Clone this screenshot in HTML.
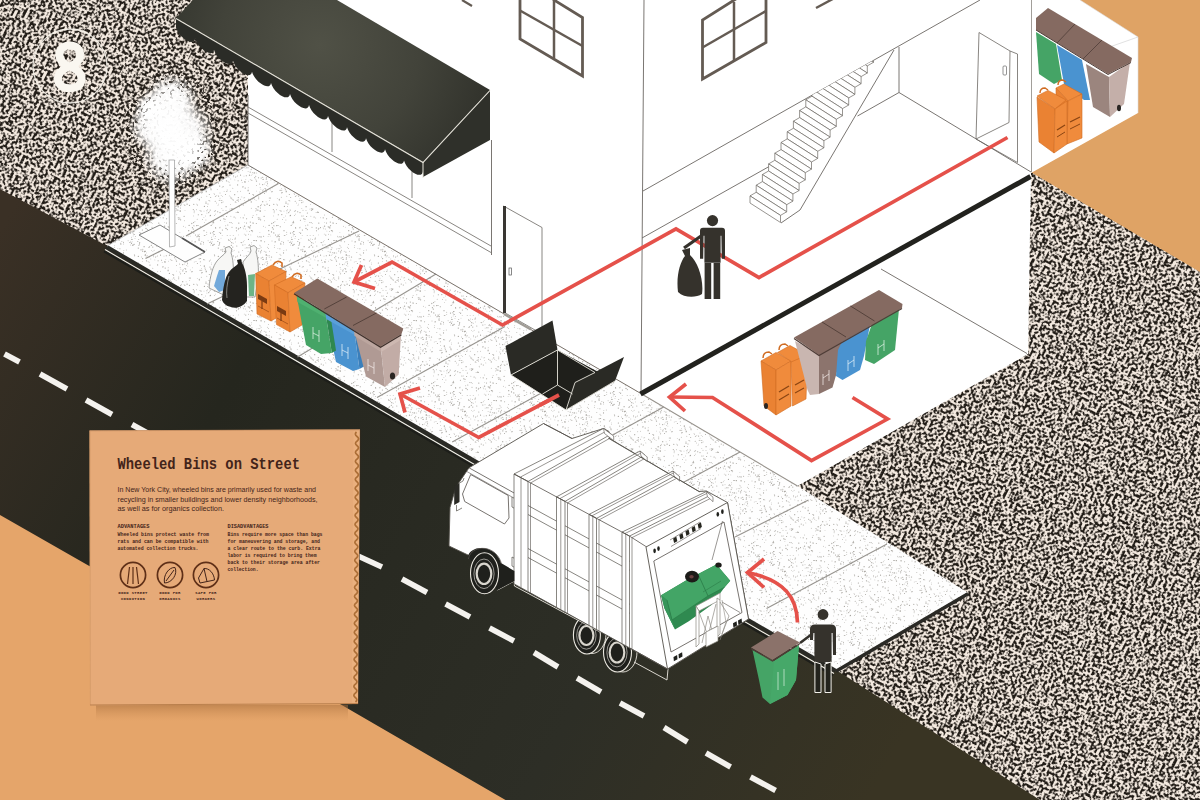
<!DOCTYPE html>
<html><head><meta charset="utf-8"><title>Wheeled Bins on Street</title>
<style>
html,body{margin:0;padding:0;background:#e5a56a;}
body{width:1200px;height:800px;overflow:hidden;font-family:"Liberation Sans",sans-serif;}
svg{display:block;}
text{font-family:"Liberation Sans",sans-serif;}
.mono{font-family:"Liberation Mono",monospace;}
</style></head><body>
<svg width="1200" height="800" viewBox="0 0 1200 800">
<defs>
<filter id="speck" x="-400" y="-500" width="2000" height="1800" filterUnits="userSpaceOnUse" color-interpolation-filters="sRGB">
 <feTurbulence type="fractalNoise" baseFrequency="0.37" numOctaves="1" seed="4" result="n"/>
 <feGaussianBlur in="n" stdDeviation="0.7" result="nb"/>
 <feColorMatrix in="nb" type="matrix" values="11 0 0 0 -4.86  11 0 0 0 -4.86  11 0 0 0 -4.86  0 0 0 0 1" result="th"/>
 <feGaussianBlur in="th" stdDeviation="0.45"/>
 <feComponentTransfer><feFuncR type="table" tableValues="0.13 0.96"/><feFuncG type="table" tableValues="0.11 0.92"/><feFuncB type="table" tableValues="0.09 0.88"/></feComponentTransfer>
</filter>
<filter id="speck2" x="100" y="40" width="160" height="180" filterUnits="userSpaceOnUse" color-interpolation-filters="sRGB">
 <feTurbulence type="fractalNoise" baseFrequency="0.37" numOctaves="1" seed="9" result="n"/>
 <feGaussianBlur in="n" stdDeviation="0.6" result="nb"/>
 <feColorMatrix in="nb" type="matrix" values="0 0 0 0 0.12  0 0 0 0 0.10  0 0 0 0 0.08  -14 0 0 0 5.7"/>
</filter>
<radialGradient id="ringg"><stop offset="0" stop-color="#fff" stop-opacity="0"/><stop offset="0.45" stop-color="#fff" stop-opacity="0.08"/><stop offset="0.8" stop-color="#fff" stop-opacity="1"/><stop offset="1" stop-color="#fff" stop-opacity="0"/></radialGradient>
<mask id="ringm" maskUnits="userSpaceOnUse" x="100" y="40" width="160" height="180"><ellipse cx="172" cy="130" rx="54" ry="66" fill="url(#ringg)"/></mask>
<linearGradient id="roadg" gradientUnits="userSpaceOnUse" x1="0" y1="230" x2="1000" y2="800">
 <stop offset="0" stop-color="#3a3025"/><stop offset="0.24" stop-color="#25261e"/><stop offset="0.64" stop-color="#2d2e26"/><stop offset="0.9" stop-color="#393423"/><stop offset="1" stop-color="#393423"/>
</linearGradient>
<radialGradient id="awng" gradientUnits="userSpaceOnUse" cx="320" cy="45" r="200"><stop offset="0" stop-color="#505146"/><stop offset="0.5" stop-color="#42433a"/><stop offset="1" stop-color="#2c2d27"/></radialGradient>
<radialGradient id="treeg"><stop offset="0" stop-color="#fff" stop-opacity="1"/><stop offset="0.5" stop-color="#fff" stop-opacity="0.95"/><stop offset="1" stop-color="#fff" stop-opacity="0"/></radialGradient>

<pattern id="dots" width="80" height="80" patternUnits="userSpaceOnUse"><rect width="80" height="80" fill="#fefefe"/><g fill="#a5a29c"><circle cx="25.9" cy="12.1" r="0.54"/><circle cx="5.8" cy="42.9" r="0.47"/><circle cx="4.6" cy="40.6" r="0.39"/><circle cx="34.7" cy="5.6" r="0.40"/><circle cx="34.0" cy="66.1" r="0.41"/><circle cx="17.9" cy="50.2" r="0.61"/><circle cx="46.2" cy="31.7" r="0.61"/><circle cx="3.7" cy="68.7" r="0.45"/><circle cx="11.5" cy="9.4" r="0.45"/><circle cx="65.3" cy="14.5" r="0.52"/><circle cx="51.1" cy="29.8" r="0.51"/><circle cx="5.0" cy="4.8" r="0.43"/><circle cx="54.4" cy="34.2" r="0.46"/><circle cx="46.8" cy="36.3" r="0.45"/><circle cx="63.6" cy="55.9" r="0.44"/><circle cx="46.0" cy="42.0" r="0.59"/><circle cx="58.4" cy="23.0" r="0.62"/><circle cx="9.4" cy="33.4" r="0.56"/><circle cx="12.2" cy="39.1" r="0.39"/><circle cx="53.5" cy="61.2" r="0.52"/><circle cx="70.0" cy="25.1" r="0.55"/><circle cx="47.5" cy="46.4" r="0.49"/><circle cx="67.2" cy="75.6" r="0.49"/><circle cx="53.1" cy="4.9" r="0.55"/><circle cx="51.8" cy="79.4" r="0.58"/><circle cx="22.8" cy="30.9" r="0.54"/><circle cx="1.8" cy="36.9" r="0.42"/><circle cx="9.4" cy="4.7" r="0.56"/><circle cx="10.3" cy="19.8" r="0.47"/><circle cx="69.7" cy="6.4" r="0.49"/><circle cx="44.0" cy="70.7" r="0.58"/><circle cx="69.1" cy="22.3" r="0.48"/><circle cx="28.7" cy="70.7" r="0.61"/><circle cx="12.1" cy="14.1" r="0.44"/><circle cx="18.7" cy="38.8" r="0.52"/><circle cx="21.0" cy="0.3" r="0.48"/><circle cx="29.5" cy="45.3" r="0.61"/><circle cx="55.2" cy="41.2" r="0.53"/><circle cx="54.1" cy="4.3" r="0.60"/><circle cx="62.4" cy="70.0" r="0.57"/><circle cx="31.4" cy="31.9" r="0.40"/><circle cx="50.7" cy="5.0" r="0.40"/><circle cx="16.7" cy="13.0" r="0.46"/><circle cx="4.2" cy="0.0" r="0.42"/><circle cx="8.1" cy="29.1" r="0.39"/><circle cx="69.9" cy="49.1" r="0.42"/><circle cx="20.2" cy="27.8" r="0.47"/><circle cx="9.8" cy="67.9" r="0.62"/><circle cx="37.3" cy="38.7" r="0.40"/><circle cx="8.2" cy="27.4" r="0.44"/><circle cx="66.3" cy="12.9" r="0.39"/><circle cx="76.1" cy="42.3" r="0.42"/><circle cx="43.5" cy="2.2" r="0.51"/><circle cx="78.3" cy="69.1" r="0.55"/><circle cx="20.9" cy="29.3" r="0.42"/><circle cx="61.8" cy="42.6" r="0.57"/><circle cx="26.4" cy="17.8" r="0.57"/><circle cx="78.8" cy="68.2" r="0.57"/><circle cx="65.5" cy="59.2" r="0.43"/><circle cx="41.4" cy="28.4" r="0.39"/><circle cx="2.2" cy="22.4" r="0.44"/><circle cx="55.4" cy="76.5" r="0.49"/><circle cx="75.0" cy="79.0" r="0.61"/><circle cx="29.2" cy="17.6" r="0.43"/><circle cx="15.7" cy="16.3" r="0.53"/><circle cx="72.0" cy="67.2" r="0.50"/><circle cx="52.2" cy="64.0" r="0.40"/><circle cx="52.8" cy="72.8" r="0.57"/><circle cx="60.0" cy="38.2" r="0.42"/><circle cx="63.1" cy="26.6" r="0.57"/><circle cx="77.7" cy="31.7" r="0.48"/><circle cx="75.7" cy="58.0" r="0.42"/><circle cx="10.2" cy="12.1" r="0.60"/><circle cx="64.5" cy="11.7" r="0.58"/><circle cx="78.4" cy="52.6" r="0.46"/><circle cx="43.9" cy="10.5" r="0.38"/><circle cx="77.7" cy="52.0" r="0.51"/><circle cx="74.7" cy="34.7" r="0.59"/><circle cx="66.1" cy="16.9" r="0.44"/><circle cx="23.4" cy="19.2" r="0.52"/><circle cx="20.7" cy="33.5" r="0.41"/><circle cx="72.8" cy="28.3" r="0.49"/><circle cx="46.7" cy="72.3" r="0.48"/><circle cx="73.4" cy="40.1" r="0.51"/><circle cx="41.9" cy="1.5" r="0.49"/><circle cx="14.6" cy="0.3" r="0.57"/><circle cx="13.8" cy="37.9" r="0.55"/><circle cx="44.5" cy="26.1" r="0.50"/><circle cx="44.4" cy="62.7" r="0.41"/><circle cx="44.8" cy="19.9" r="0.45"/><circle cx="61.8" cy="40.6" r="0.51"/><circle cx="60.8" cy="73.0" r="0.49"/><circle cx="49.0" cy="40.4" r="0.50"/><circle cx="55.4" cy="36.2" r="0.51"/><circle cx="38.2" cy="75.3" r="0.55"/><circle cx="70.1" cy="75.4" r="0.44"/><circle cx="44.8" cy="75.5" r="0.58"/><circle cx="11.0" cy="9.7" r="0.49"/><circle cx="5.8" cy="19.3" r="0.40"/><circle cx="53.6" cy="62.7" r="0.60"/><circle cx="12.4" cy="57.3" r="0.54"/><circle cx="11.4" cy="70.6" r="0.61"/><circle cx="17.6" cy="76.2" r="0.48"/><circle cx="39.0" cy="79.2" r="0.58"/><circle cx="12.9" cy="34.5" r="0.50"/><circle cx="27.1" cy="15.7" r="0.46"/><circle cx="57.8" cy="1.6" r="0.51"/><circle cx="35.2" cy="1.4" r="0.46"/><circle cx="49.9" cy="41.0" r="0.40"/><circle cx="78.8" cy="63.1" r="0.61"/><circle cx="8.4" cy="21.2" r="0.39"/><circle cx="62.3" cy="21.6" r="0.41"/><circle cx="33.8" cy="72.9" r="0.58"/><circle cx="20.7" cy="11.9" r="0.60"/><circle cx="45.6" cy="56.0" r="0.40"/><circle cx="4.6" cy="55.1" r="0.48"/><circle cx="5.8" cy="75.1" r="0.53"/><circle cx="64.1" cy="6.7" r="0.59"/><circle cx="5.3" cy="69.0" r="0.49"/><circle cx="27.1" cy="44.2" r="0.60"/><circle cx="21.4" cy="10.3" r="0.51"/><circle cx="19.1" cy="8.8" r="0.42"/><circle cx="4.0" cy="16.1" r="0.45"/><circle cx="24.4" cy="60.8" r="0.45"/><circle cx="40.0" cy="14.2" r="0.46"/><circle cx="1.5" cy="20.0" r="0.38"/><circle cx="58.6" cy="44.1" r="0.43"/><circle cx="38.0" cy="74.8" r="0.41"/><circle cx="65.5" cy="34.6" r="0.50"/><circle cx="66.8" cy="31.4" r="0.50"/><circle cx="55.0" cy="78.6" r="0.46"/><circle cx="66.6" cy="56.5" r="0.53"/><circle cx="32.4" cy="27.8" r="0.39"/><circle cx="10.4" cy="5.7" r="0.56"/><circle cx="20.4" cy="13.1" r="0.40"/><circle cx="67.3" cy="69.6" r="0.54"/><circle cx="22.6" cy="19.4" r="0.45"/><circle cx="36.8" cy="12.6" r="0.49"/><circle cx="21.1" cy="76.9" r="0.61"/><circle cx="43.8" cy="19.6" r="0.61"/><circle cx="24.8" cy="28.5" r="0.38"/><circle cx="30.5" cy="38.0" r="0.50"/><circle cx="16.1" cy="40.4" r="0.38"/><circle cx="21.1" cy="7.2" r="0.48"/><circle cx="3.3" cy="1.8" r="0.45"/><circle cx="18.6" cy="46.8" r="0.51"/><circle cx="60.0" cy="52.6" r="0.55"/><circle cx="70.3" cy="31.2" r="0.46"/><circle cx="78.8" cy="12.0" r="0.55"/><circle cx="51.5" cy="3.5" r="0.58"/><circle cx="71.4" cy="50.2" r="0.56"/><circle cx="65.0" cy="11.1" r="0.51"/><circle cx="40.3" cy="66.8" r="0.57"/><circle cx="66.1" cy="46.7" r="0.59"/><circle cx="54.6" cy="55.5" r="0.44"/><circle cx="2.5" cy="10.6" r="0.47"/><circle cx="8.4" cy="66.9" r="0.51"/><circle cx="50.2" cy="50.1" r="0.54"/><circle cx="39.1" cy="0.3" r="0.57"/><circle cx="59.9" cy="40.2" r="0.51"/><circle cx="52.7" cy="5.3" r="0.56"/><circle cx="20.2" cy="6.0" r="0.44"/><circle cx="58.3" cy="16.4" r="0.56"/><circle cx="78.1" cy="39.5" r="0.47"/><circle cx="38.3" cy="54.7" r="0.56"/><circle cx="49.4" cy="51.4" r="0.40"/><circle cx="11.8" cy="20.3" r="0.56"/><circle cx="24.4" cy="45.4" r="0.38"/><circle cx="4.9" cy="21.5" r="0.54"/><circle cx="55.4" cy="54.1" r="0.45"/><circle cx="41.3" cy="37.2" r="0.49"/><circle cx="9.5" cy="71.5" r="0.43"/><circle cx="78.3" cy="74.9" r="0.38"/><circle cx="36.7" cy="65.6" r="0.61"/><circle cx="36.0" cy="21.5" r="0.43"/><circle cx="75.6" cy="16.9" r="0.52"/><circle cx="11.3" cy="41.9" r="0.61"/><circle cx="10.6" cy="65.6" r="0.50"/><circle cx="70.9" cy="56.3" r="0.44"/><circle cx="71.8" cy="38.9" r="0.39"/><circle cx="0.3" cy="39.3" r="0.49"/><circle cx="24.2" cy="11.3" r="0.46"/><circle cx="25.3" cy="67.2" r="0.38"/><circle cx="60.1" cy="67.1" r="0.41"/><circle cx="74.1" cy="57.0" r="0.60"/><circle cx="23.2" cy="29.8" r="0.47"/><circle cx="79.9" cy="47.1" r="0.47"/><circle cx="34.2" cy="22.0" r="0.39"/><circle cx="8.1" cy="66.8" r="0.45"/><circle cx="74.8" cy="19.9" r="0.44"/><circle cx="40.9" cy="15.2" r="0.47"/><circle cx="76.5" cy="70.7" r="0.57"/><circle cx="50.5" cy="73.1" r="0.61"/><circle cx="43.9" cy="57.6" r="0.39"/><circle cx="58.6" cy="36.1" r="0.56"/><circle cx="51.6" cy="22.9" r="0.39"/><circle cx="74.1" cy="10.2" r="0.49"/><circle cx="27.5" cy="23.8" r="0.56"/><circle cx="78.1" cy="20.8" r="0.54"/><circle cx="24.1" cy="44.6" r="0.47"/><circle cx="13.4" cy="12.9" r="0.43"/><circle cx="72.5" cy="39.8" r="0.43"/><circle cx="72.5" cy="79.7" r="0.49"/><circle cx="11.2" cy="15.4" r="0.40"/><circle cx="27.4" cy="7.3" r="0.44"/><circle cx="20.7" cy="45.6" r="0.59"/><circle cx="60.0" cy="33.0" r="0.48"/><circle cx="41.9" cy="30.1" r="0.46"/><circle cx="5.0" cy="22.2" r="0.61"/><circle cx="10.1" cy="40.3" r="0.53"/><circle cx="69.0" cy="17.3" r="0.45"/><circle cx="19.9" cy="32.0" r="0.49"/><circle cx="76.3" cy="67.9" r="0.59"/><circle cx="1.7" cy="2.6" r="0.55"/><circle cx="71.7" cy="37.9" r="0.52"/><circle cx="0.0" cy="31.3" r="0.60"/><circle cx="66.0" cy="68.4" r="0.61"/><circle cx="19.9" cy="8.7" r="0.42"/><circle cx="41.8" cy="54.6" r="0.61"/><circle cx="57.7" cy="51.8" r="0.56"/><circle cx="36.6" cy="44.1" r="0.39"/><circle cx="62.6" cy="18.6" r="0.60"/><circle cx="51.6" cy="24.3" r="0.41"/><circle cx="20.1" cy="50.9" r="0.55"/><circle cx="9.0" cy="5.6" r="0.51"/><circle cx="46.6" cy="31.0" r="0.43"/><circle cx="48.1" cy="0.8" r="0.45"/><circle cx="36.9" cy="76.7" r="0.53"/><circle cx="70.7" cy="38.0" r="0.44"/><circle cx="19.8" cy="76.8" r="0.55"/><circle cx="24.6" cy="1.7" r="0.50"/><circle cx="54.0" cy="33.6" r="0.44"/><circle cx="53.4" cy="74.0" r="0.43"/><circle cx="2.7" cy="27.0" r="0.48"/><circle cx="54.6" cy="15.8" r="0.57"/><circle cx="59.1" cy="40.4" r="0.43"/><circle cx="77.6" cy="24.9" r="0.58"/><circle cx="18.5" cy="17.7" r="0.56"/><circle cx="23.6" cy="76.2" r="0.50"/><circle cx="15.0" cy="17.9" r="0.48"/><circle cx="53.2" cy="75.9" r="0.42"/><circle cx="31.5" cy="17.0" r="0.61"/><circle cx="11.4" cy="4.1" r="0.39"/><circle cx="31.5" cy="71.9" r="0.59"/><circle cx="58.6" cy="79.8" r="0.60"/><circle cx="26.3" cy="14.8" r="0.60"/><circle cx="59.7" cy="2.6" r="0.54"/><circle cx="30.3" cy="29.9" r="0.46"/><circle cx="13.5" cy="0.2" r="0.45"/><circle cx="28.1" cy="76.4" r="0.41"/><circle cx="77.1" cy="16.6" r="0.47"/><circle cx="65.7" cy="65.8" r="0.48"/><circle cx="3.9" cy="37.9" r="0.47"/><circle cx="73.6" cy="15.4" r="0.47"/><circle cx="71.8" cy="2.4" r="0.48"/><circle cx="64.9" cy="61.3" r="0.39"/><circle cx="2.8" cy="5.0" r="0.60"/><circle cx="20.6" cy="59.8" r="0.60"/><circle cx="27.1" cy="21.8" r="0.61"/><circle cx="49.4" cy="21.0" r="0.55"/><circle cx="25.3" cy="22.1" r="0.38"/><circle cx="60.5" cy="73.3" r="0.53"/><circle cx="75.5" cy="1.9" r="0.44"/><circle cx="38.0" cy="76.5" r="0.61"/><circle cx="30.9" cy="20.1" r="0.48"/><circle cx="39.5" cy="74.2" r="0.42"/><circle cx="64.2" cy="59.1" r="0.58"/><circle cx="61.8" cy="48.6" r="0.46"/><circle cx="25.6" cy="28.9" r="0.57"/><circle cx="6.3" cy="15.8" r="0.56"/><circle cx="19.8" cy="5.2" r="0.39"/><circle cx="44.2" cy="26.1" r="0.62"/><circle cx="70.7" cy="79.0" r="0.44"/><circle cx="6.7" cy="7.7" r="0.50"/><circle cx="56.8" cy="35.8" r="0.44"/><circle cx="33.3" cy="49.6" r="0.54"/><circle cx="59.8" cy="67.8" r="0.54"/><circle cx="9.7" cy="67.3" r="0.45"/><circle cx="45.4" cy="29.8" r="0.56"/><circle cx="15.9" cy="19.8" r="0.44"/><circle cx="12.3" cy="70.7" r="0.52"/><circle cx="26.1" cy="31.7" r="0.62"/><circle cx="40.6" cy="18.5" r="0.57"/><circle cx="52.3" cy="79.3" r="0.40"/><circle cx="38.0" cy="65.5" r="0.58"/><circle cx="73.2" cy="3.2" r="0.45"/><circle cx="9.5" cy="15.2" r="0.61"/><circle cx="46.7" cy="74.4" r="0.47"/><circle cx="69.3" cy="35.9" r="0.44"/><circle cx="62.2" cy="75.7" r="0.41"/><circle cx="47.7" cy="49.6" r="0.43"/><circle cx="29.5" cy="11.3" r="0.43"/><circle cx="20.4" cy="48.0" r="0.54"/><circle cx="16.3" cy="0.9" r="0.46"/><circle cx="54.3" cy="14.8" r="0.45"/><circle cx="16.3" cy="63.6" r="0.51"/><circle cx="5.1" cy="8.1" r="0.47"/><circle cx="44.0" cy="51.1" r="0.40"/><circle cx="13.1" cy="55.6" r="0.48"/><circle cx="22.7" cy="24.6" r="0.61"/><circle cx="25.0" cy="45.3" r="0.47"/><circle cx="33.3" cy="69.1" r="0.62"/><circle cx="29.1" cy="15.8" r="0.55"/><circle cx="16.3" cy="0.5" r="0.60"/><circle cx="33.9" cy="65.6" r="0.48"/><circle cx="70.6" cy="36.9" r="0.42"/><circle cx="1.2" cy="44.1" r="0.53"/><circle cx="72.8" cy="7.1" r="0.53"/><circle cx="29.7" cy="40.4" r="0.42"/><circle cx="22.7" cy="41.7" r="0.60"/><circle cx="8.7" cy="39.2" r="0.57"/><circle cx="77.4" cy="15.8" r="0.41"/><circle cx="75.4" cy="78.0" r="0.50"/><circle cx="4.3" cy="74.1" r="0.47"/><circle cx="72.3" cy="49.6" r="0.58"/><circle cx="12.8" cy="62.9" r="0.43"/><circle cx="32.4" cy="67.7" r="0.58"/><circle cx="14.6" cy="17.5" r="0.48"/><circle cx="41.4" cy="30.7" r="0.41"/><circle cx="19.8" cy="58.0" r="0.60"/><circle cx="3.3" cy="45.0" r="0.56"/><circle cx="3.1" cy="67.1" r="0.41"/><circle cx="48.0" cy="44.0" r="0.53"/><circle cx="24.5" cy="33.6" r="0.52"/><circle cx="34.1" cy="52.7" r="0.49"/><circle cx="35.1" cy="1.9" r="0.53"/><circle cx="39.2" cy="18.8" r="0.56"/><circle cx="62.4" cy="36.7" r="0.42"/><circle cx="37.9" cy="8.6" r="0.41"/><circle cx="34.4" cy="7.3" r="0.49"/><circle cx="40.8" cy="3.3" r="0.53"/><circle cx="6.6" cy="58.7" r="0.57"/><circle cx="40.9" cy="4.3" r="0.50"/><circle cx="30.2" cy="76.1" r="0.41"/><circle cx="68.6" cy="79.7" r="0.56"/><circle cx="65.2" cy="15.5" r="0.62"/><circle cx="39.3" cy="76.5" r="0.60"/><circle cx="13.2" cy="63.1" r="0.60"/><circle cx="5.2" cy="28.1" r="0.56"/><circle cx="12.7" cy="71.7" r="0.45"/><circle cx="65.3" cy="11.5" r="0.50"/><circle cx="73.6" cy="16.7" r="0.44"/><circle cx="40.5" cy="25.5" r="0.39"/><circle cx="14.6" cy="12.9" r="0.60"/><circle cx="54.4" cy="71.6" r="0.42"/><circle cx="62.8" cy="9.2" r="0.51"/><circle cx="50.9" cy="28.8" r="0.59"/><circle cx="44.4" cy="46.4" r="0.59"/><circle cx="8.4" cy="79.4" r="0.53"/><circle cx="31.5" cy="63.8" r="0.44"/><circle cx="79.2" cy="46.2" r="0.47"/><circle cx="61.2" cy="35.4" r="0.42"/><circle cx="59.5" cy="3.9" r="0.58"/><circle cx="20.3" cy="51.1" r="0.62"/><circle cx="46.9" cy="53.1" r="0.46"/><circle cx="0.1" cy="2.7" r="0.42"/><circle cx="49.3" cy="34.6" r="0.50"/><circle cx="71.6" cy="10.6" r="0.43"/><circle cx="52.2" cy="1.8" r="0.38"/><circle cx="28.4" cy="8.5" r="0.47"/><circle cx="17.9" cy="46.7" r="0.52"/><circle cx="16.3" cy="49.9" r="0.49"/><circle cx="10.8" cy="74.9" r="0.44"/><circle cx="11.9" cy="7.7" r="0.53"/><circle cx="69.7" cy="62.6" r="0.48"/><circle cx="21.1" cy="0.9" r="0.53"/><circle cx="45.0" cy="28.0" r="0.53"/><circle cx="35.5" cy="75.0" r="0.56"/><circle cx="19.9" cy="72.3" r="0.39"/><circle cx="42.5" cy="32.5" r="0.44"/><circle cx="4.7" cy="62.3" r="0.38"/><circle cx="44.1" cy="75.3" r="0.41"/><circle cx="16.0" cy="48.6" r="0.50"/><circle cx="51.3" cy="65.1" r="0.42"/><circle cx="24.8" cy="24.0" r="0.39"/><circle cx="71.1" cy="62.6" r="0.55"/><circle cx="0.5" cy="67.6" r="0.56"/><circle cx="37.2" cy="59.3" r="0.49"/><circle cx="18.1" cy="8.4" r="0.44"/><circle cx="3.1" cy="26.8" r="0.56"/><circle cx="55.6" cy="67.6" r="0.55"/><circle cx="21.3" cy="44.3" r="0.48"/><circle cx="63.1" cy="41.9" r="0.44"/><circle cx="51.4" cy="77.2" r="0.43"/><circle cx="70.4" cy="1.2" r="0.44"/><circle cx="18.9" cy="59.5" r="0.61"/><circle cx="59.7" cy="26.1" r="0.59"/><circle cx="26.3" cy="19.1" r="0.60"/><circle cx="50.5" cy="55.4" r="0.54"/><circle cx="78.3" cy="37.6" r="0.58"/><circle cx="55.8" cy="68.6" r="0.48"/><circle cx="58.0" cy="45.6" r="0.45"/><circle cx="17.0" cy="49.8" r="0.40"/><circle cx="72.9" cy="11.6" r="0.39"/><circle cx="8.5" cy="74.3" r="0.46"/><circle cx="11.3" cy="2.3" r="0.39"/><circle cx="55.4" cy="50.7" r="0.55"/><circle cx="58.9" cy="5.3" r="0.52"/><circle cx="29.1" cy="65.4" r="0.58"/><circle cx="71.3" cy="5.3" r="0.59"/><circle cx="73.2" cy="75.5" r="0.41"/><circle cx="16.5" cy="9.0" r="0.39"/><circle cx="67.8" cy="65.0" r="0.53"/><circle cx="66.0" cy="50.5" r="0.45"/><circle cx="8.0" cy="7.8" r="0.56"/><circle cx="16.4" cy="25.5" r="0.48"/><circle cx="1.7" cy="20.5" r="0.45"/><circle cx="57.3" cy="29.4" r="0.46"/><circle cx="77.1" cy="40.3" r="0.58"/><circle cx="49.5" cy="2.5" r="0.48"/><circle cx="34.9" cy="61.8" r="0.46"/><circle cx="56.4" cy="43.0" r="0.43"/><circle cx="69.0" cy="7.3" r="0.58"/><circle cx="13.6" cy="0.1" r="0.43"/><circle cx="61.0" cy="78.2" r="0.38"/><circle cx="39.3" cy="39.3" r="0.57"/><circle cx="14.8" cy="39.6" r="0.46"/><circle cx="66.5" cy="20.8" r="0.61"/><circle cx="22.7" cy="17.2" r="0.55"/><circle cx="39.9" cy="8.8" r="0.53"/><circle cx="6.5" cy="63.0" r="0.55"/><circle cx="63.0" cy="50.2" r="0.47"/><circle cx="32.1" cy="31.6" r="0.59"/><circle cx="6.9" cy="71.1" r="0.39"/><circle cx="16.5" cy="21.1" r="0.60"/><circle cx="40.1" cy="30.3" r="0.59"/><circle cx="18.7" cy="36.9" r="0.51"/><circle cx="60.4" cy="60.2" r="0.54"/><circle cx="27.9" cy="26.1" r="0.42"/><circle cx="67.4" cy="53.0" r="0.56"/><circle cx="13.6" cy="35.1" r="0.57"/><circle cx="46.3" cy="10.1" r="0.49"/><circle cx="70.8" cy="19.0" r="0.43"/><circle cx="24.1" cy="56.3" r="0.58"/><circle cx="12.4" cy="12.5" r="0.44"/><circle cx="26.1" cy="41.8" r="0.42"/><circle cx="26.2" cy="15.1" r="0.61"/><circle cx="58.3" cy="8.1" r="0.61"/><circle cx="8.1" cy="30.7" r="0.62"/><circle cx="63.6" cy="58.7" r="0.48"/><circle cx="15.7" cy="51.0" r="0.41"/><circle cx="16.5" cy="31.1" r="0.39"/><circle cx="31.9" cy="63.3" r="0.55"/><circle cx="40.0" cy="50.6" r="0.49"/><circle cx="11.3" cy="48.3" r="0.48"/><circle cx="59.3" cy="72.6" r="0.48"/><circle cx="45.9" cy="59.9" r="0.48"/><circle cx="18.3" cy="57.8" r="0.59"/><circle cx="61.9" cy="56.0" r="0.58"/><circle cx="54.4" cy="51.3" r="0.49"/><circle cx="25.0" cy="50.3" r="0.40"/><circle cx="33.6" cy="62.6" r="0.55"/><circle cx="50.4" cy="20.0" r="0.48"/><circle cx="36.4" cy="49.7" r="0.48"/><circle cx="54.0" cy="74.4" r="0.42"/><circle cx="52.4" cy="62.3" r="0.47"/><circle cx="39.2" cy="78.0" r="0.39"/><circle cx="43.5" cy="12.9" r="0.57"/><circle cx="75.2" cy="41.5" r="0.40"/><circle cx="46.0" cy="43.3" r="0.55"/><circle cx="41.0" cy="51.1" r="0.58"/><circle cx="41.7" cy="32.8" r="0.61"/><circle cx="16.8" cy="54.7" r="0.47"/><circle cx="61.0" cy="9.8" r="0.62"/><circle cx="28.4" cy="4.5" r="0.45"/><circle cx="32.0" cy="1.1" r="0.48"/><circle cx="33.6" cy="55.9" r="0.46"/><circle cx="21.2" cy="18.0" r="0.56"/><circle cx="75.2" cy="42.2" r="0.43"/><circle cx="64.1" cy="31.4" r="0.43"/><circle cx="10.3" cy="62.1" r="0.57"/><circle cx="50.7" cy="37.5" r="0.51"/><circle cx="18.1" cy="77.1" r="0.46"/><circle cx="51.1" cy="65.5" r="0.58"/><circle cx="37.4" cy="23.5" r="0.51"/><circle cx="10.0" cy="66.7" r="0.47"/><circle cx="68.1" cy="21.4" r="0.47"/><circle cx="20.3" cy="34.1" r="0.42"/><circle cx="0.2" cy="57.7" r="0.45"/><circle cx="19.6" cy="24.1" r="0.50"/><circle cx="34.3" cy="51.0" r="0.54"/><circle cx="29.0" cy="74.3" r="0.59"/><circle cx="4.6" cy="66.2" r="0.60"/><circle cx="62.7" cy="11.2" r="0.58"/><circle cx="50.7" cy="1.2" r="0.38"/><circle cx="76.1" cy="52.5" r="0.44"/><circle cx="8.1" cy="11.4" r="0.44"/><circle cx="62.1" cy="27.7" r="0.42"/><circle cx="72.3" cy="63.3" r="0.42"/><circle cx="71.3" cy="48.7" r="0.57"/><circle cx="53.5" cy="71.5" r="0.57"/><circle cx="67.1" cy="15.8" r="0.55"/><circle cx="42.5" cy="59.4" r="0.49"/><circle cx="70.6" cy="44.4" r="0.44"/><circle cx="18.7" cy="11.1" r="0.50"/><circle cx="4.7" cy="37.4" r="0.41"/><circle cx="39.3" cy="39.9" r="0.51"/><circle cx="69.0" cy="0.5" r="0.58"/><circle cx="37.4" cy="45.0" r="0.54"/><circle cx="67.2" cy="30.0" r="0.48"/><circle cx="76.8" cy="6.0" r="0.53"/><circle cx="50.9" cy="2.3" r="0.53"/><circle cx="54.6" cy="74.5" r="0.46"/><circle cx="78.5" cy="40.9" r="0.50"/><circle cx="71.8" cy="2.7" r="0.55"/><circle cx="50.0" cy="27.1" r="0.59"/><circle cx="29.3" cy="38.0" r="0.51"/><circle cx="61.6" cy="16.9" r="0.48"/><circle cx="33.8" cy="44.3" r="0.58"/><circle cx="23.4" cy="66.2" r="0.48"/><circle cx="40.3" cy="21.7" r="0.50"/><circle cx="78.0" cy="52.4" r="0.57"/><circle cx="26.5" cy="25.4" r="0.45"/><circle cx="46.9" cy="50.8" r="0.57"/><circle cx="3.2" cy="57.8" r="0.59"/><circle cx="43.6" cy="4.0" r="0.45"/><circle cx="0.5" cy="15.2" r="0.60"/><circle cx="48.7" cy="52.6" r="0.57"/><circle cx="72.8" cy="48.9" r="0.53"/><circle cx="50.1" cy="55.7" r="0.52"/></g></pattern>
<clipPath id="cspeck"><polygon points="0.0,0.0 260.0,0.0 260.0,170.0 110.0,250.0 0.0,194.0"/><polygon points="1029.0,171.0 1200.0,272.0 1200.0,800.0 1030.0,800.0 830.0,674.0 962.0,594.0 792.0,487.0 1025.0,353.0"/></clipPath>
</defs>
<rect width="1200" height="800" fill="#e5a56a"/>
<rect x="1000" y="0" width="200" height="300" fill="#dfa365"/>
<g clip-path="url(#cspeck)"><rect x="-400" y="-500" width="2000" height="1800" filter="url(#speck)" transform="rotate(27 600 400)"/></g>
<polygon points="0.0,189.0 107.0,246.0 836.0,670.0 1040.0,800.0 505.5,800.0 341.7,705.0 87.5,565.0 0.0,515.0" fill="url(#roadg)" stroke="none" stroke-width="1" />
<polygon points="107.0,246.0 248.0,165.0 640.0,393.0 797.5,486.0 967.5,592.5 836.0,670.0" fill="url(#dots)" stroke="none" stroke-width="1" />
<polygon points="248.0,0.0 1080.0,0.0 1138.0,37.0 1138.0,113.0 1031.0,173.0 1028.0,354.0 797.5,486.0 640.0,393.0 248.0,165.0" fill="#ffffff" stroke="none" stroke-width="1" />
<g id="street">
<polyline points="106.5,246.8 835.5,670.8" fill="none" stroke="#2a2a25" stroke-width="4" />
<polyline points="105.0,249.6 834.0,673.6" fill="none" stroke="#f4f2ec" stroke-width="1.1" />
<polyline points="104.0,251.4 833.0,675.4" fill="none" stroke="#1d1e1a" stroke-width="2" />
<polyline points="836.0,671.3 968.0,593.8" fill="none" stroke="#2a2925" stroke-width="3.6" />
<polyline points="107.0,246.0 248.0,165.0" fill="none" stroke="#bbb" stroke-width="0.8" />
<polyline points="186.0,236.0 278.5,183.5" fill="none" stroke="#97948f" stroke-width="1.1" />
<polyline points="359.0,231.0 207.0,304.0" fill="none" stroke="#97948f" stroke-width="1.1" />
<polyline points="436.0,274.0 297.5,357.0" fill="none" stroke="#97948f" stroke-width="1.1" />
<polyline points="377.0,397.4 505.0,326.5" fill="none" stroke="#97948f" stroke-width="1.1" />
<polyline points="452.2,442.0 560.0,382.8" fill="none" stroke="#97948f" stroke-width="1.1" />
<polyline points="145.5,258.5 166.5,248.0" fill="none" stroke="#97948f" stroke-width="1.1" />
<polyline points="609.0,437.0 663.7,407.0" fill="none" stroke="#97948f" stroke-width="1.1" />
<polyline points="682.7,482.7 740.0,452.0" fill="none" stroke="#97948f" stroke-width="1.1" />
<polyline points="808.5,500.0 735.0,537.0" fill="none" stroke="#97948f" stroke-width="1.1" />
<polyline points="887.0,544.0 766.5,608.5" fill="none" stroke="#97948f" stroke-width="1.1" />
<polyline points="640.0,393.0 797.5,486.0" fill="none" stroke="#97948f" stroke-width="1.1" />
<polygon points="139.0,235.0 160.0,225.0 205.0,252.0 185.0,262.0" fill="#fefefe" stroke="#777" stroke-width="0.9" />
<polyline points="182.0,238.0 205.0,252.0" fill="none" stroke="#555" stroke-width="1.6" />
<g>
<circle cx="171" cy="101" r="28" fill="url(#treeg)"/>
<circle cx="156" cy="126" r="28" fill="url(#treeg)"/>
<circle cx="180" cy="133" r="35" fill="url(#treeg)"/>
<circle cx="172" cy="156" r="31" fill="url(#treeg)"/>
<circle cx="193" cy="152" r="22" fill="url(#treeg)"/>
<circle cx="151" cy="108" r="16" fill="url(#treeg)"/>
</g>
<g mask="url(#ringm)"><rect x="100" y="40" width="160" height="180" filter="url(#speck2)"/></g>
<polygon points="169.0,160.0 174.5,160.0 175.0,246.0 169.5,247.0" fill="#ffffff" stroke="#999" stroke-width="0.7" />
<circle cx="70" cy="66" r="37" fill="none" stroke="#f5f2ea" stroke-width="1.3" opacity="0.9"/>
<path d="M69.8 66.5 C55.5 62 56.5 45.5 69.8 45.5 C83 45.5 84 62 69.8 66.5 C53.5 71 54.5 88.3 69.8 88.3 C85 88.3 86 71 69.8 66.5 Z" fill="none" stroke="#faf7f0" stroke-width="8" stroke-linejoin="round"/>
<polyline points="4.5,354.0 19.5,362.0" fill="none" stroke="#f4f2ee" stroke-width="5.6" />
<polyline points="40.0,374.0 67.0,389.0" fill="none" stroke="#f4f2ee" stroke-width="5.6" />
<polyline points="86.0,400.0 112.0,414.5" fill="none" stroke="#f4f2ee" stroke-width="5.6" />
<polyline points="132.0,424.5 160.0,440.0" fill="none" stroke="#f4f2ee" stroke-width="5.6" />
<polyline points="358.0,556.0 382.0,567.0" fill="none" stroke="#f4f2ee" stroke-width="5.6" />
<polyline points="402.0,579.0 427.0,592.5" fill="none" stroke="#f4f2ee" stroke-width="5.6" />
<polyline points="445.6,604.0 470.0,617.0" fill="none" stroke="#f4f2ee" stroke-width="5.6" />
<polyline points="489.5,628.0 514.0,641.0" fill="none" stroke="#f4f2ee" stroke-width="5.6" />
<polyline points="534.0,652.5 558.0,667.0" fill="none" stroke="#f4f2ee" stroke-width="5.6" />
<polyline points="577.0,678.0 601.0,692.0" fill="none" stroke="#f4f2ee" stroke-width="5.6" />
<polyline points="620.0,703.0 644.0,716.0" fill="none" stroke="#f4f2ee" stroke-width="5.6" />
<polyline points="664.0,727.5 687.5,742.0" fill="none" stroke="#f4f2ee" stroke-width="5.6" />
<polyline points="706.0,753.0 730.6,767.0" fill="none" stroke="#f4f2ee" stroke-width="5.6" />
<polyline points="750.5,777.0 775.6,790.5" fill="none" stroke="#f4f2ee" stroke-width="5.6" />
</g>
<g id="building">
<polyline points="248.0,95.0 248.0,165.0" fill="none" stroke="#6b6762" stroke-width="0.9" />
<polyline points="248.0,107.0 491.0,246.0" fill="none" stroke="#6b6762" stroke-width="0.8" />
<polyline points="248.0,113.0 491.0,252.5" fill="none" stroke="#6b6762" stroke-width="0.8" />
<polyline points="491.5,140.0 491.5,255.0" fill="none" stroke="#6b6762" stroke-width="0.9" />
<polyline points="332.0,118.0 332.0,152.0" fill="none" stroke="#6b6762" stroke-width="0.8" />
<polyline points="412.0,170.0 412.0,198.0" fill="none" stroke="#6b6762" stroke-width="0.8" />
<polyline points="248.0,165.0 640.0,393.0" fill="none" stroke="#6b6762" stroke-width="0.9" />
<polygon points="176.0,18.0 193.0,0.0 337.0,0.0 490.0,90.0 423.0,162.0" fill="url(#awng)" stroke="none" stroke-width="1" />
<path d="M176,18 L423,162 L423,171.5 C422.0,180.0 407.0,170.9 404.0,160.4 C403.0,168.9 388.0,159.8 385.0,149.3 C384.0,157.8 369.0,148.8 366.0,138.3 C365.0,146.8 350.0,137.7 347.0,127.2 C346.0,135.7 331.0,126.6 328.0,116.1 C327.0,124.6 312.0,115.5 309.0,105.0 C308.0,113.5 293.0,104.5 290.0,94.0 C289.0,102.5 274.0,93.4 271.0,82.9 C270.0,91.4 255.0,82.3 252.0,71.8 C251.0,80.3 236.0,71.2 233.0,60.7 C232.0,69.2 217.0,60.2 214.0,49.7 C213.0,58.2 198.0,49.1 195.0,38.6 C194.0,47.1 179.0,38.0 176.0,27.5 Z" fill="#2b2c27"/>
<polygon points="423.0,162.0 490.0,90.0 490.0,140.0 423.0,177.0" fill="#2f302a" stroke="none" stroke-width="1" />
<polyline points="176.0,18.5 423.0,162.5 490.0,90.5" fill="none" stroke="#e9e6dc" stroke-width="1.1" />
<polyline points="423.0,162.0 423.0,178.0" fill="none" stroke="#e9e6dc" stroke-width="1" />
<polygon points="503.5,206.0 542.0,227.5 542.0,334.0 503.5,312.0" fill="#ffffff" stroke="#6b6762" stroke-width="0.8" />
<polyline points="504.5,206.0 504.5,313.0" fill="none" stroke="#3a3733" stroke-width="3" />
<polyline points="504.0,314.0 531.0,329.5" fill="none" stroke="#a09c96" stroke-width="2.4" />
<rect x="509" y="268" width="2.6" height="7" fill="none" stroke="#555" stroke-width="0.7"/>
<polyline points="644.0,0.0 641.0,393.0" fill="none" stroke="#6b6762" stroke-width="0.9" />
<polyline points="643.0,191.0 980.0,0.0" fill="none" stroke="#6b6762" stroke-width="0.9" />
<polyline points="642.0,238.0 770.0,166.0" fill="none" stroke="#6b6762" stroke-width="0.9" />
<polyline points="899.0,47.0 899.0,92.5" fill="none" stroke="#6b6762" stroke-width="0.9" />
<polyline points="899.0,92.5 857.5,116.0" fill="none" stroke="#6b6762" stroke-width="0.9" />
<polyline points="899.0,92.5 1031.0,172.0" fill="none" stroke="#6b6762" stroke-width="0.9" />
<polyline points="781.0,223.0 800.0,210.0 894.0,50.0" fill="none" stroke="#6b6762" stroke-width="0.9" />
<clipPath id="cstair"><polygon points="643.0,191.0 980.0,0.0 1100.0,0.0 1100.0,400.0 643.0,400.0"/></clipPath>
<g clip-path="url(#cstair)" fill="#ffffff" stroke="#6b6762" stroke-width="0.8">
<polygon points="843.0,35.7 873.5,55.2 879.7,51.7 849.2,32.2" fill="#ffffff" stroke="#6b6762" stroke-width="0.7" />
<polygon points="843.0,42.8 873.5,62.3 873.5,55.2 843.0,35.7" fill="#ffffff" stroke="#6b6762" stroke-width="0.7" />
<polygon points="836.8,46.4 867.3,65.9 873.5,62.3 843.0,42.8" fill="#ffffff" stroke="#6b6762" stroke-width="0.7" />
<polygon points="836.8,53.5 867.3,73.0 867.3,65.9 836.8,46.4" fill="#ffffff" stroke="#6b6762" stroke-width="0.7" />
<polygon points="830.6,57.1 861.1,76.6 867.3,73.0 836.8,53.5" fill="#ffffff" stroke="#6b6762" stroke-width="0.7" />
<polygon points="830.6,64.2 861.1,83.7 861.1,76.6 830.6,57.1" fill="#ffffff" stroke="#6b6762" stroke-width="0.7" />
<polygon points="824.4,67.8 854.9,87.3 861.1,83.7 830.6,64.2" fill="#ffffff" stroke="#6b6762" stroke-width="0.7" />
<polygon points="824.4,74.9 854.9,94.4 854.9,87.3 824.4,67.8" fill="#ffffff" stroke="#6b6762" stroke-width="0.7" />
<polygon points="818.2,78.4 848.7,97.9 854.9,94.4 824.4,74.9" fill="#ffffff" stroke="#6b6762" stroke-width="0.7" />
<polygon points="818.2,85.5 848.7,105.0 848.7,97.9 818.2,78.4" fill="#ffffff" stroke="#6b6762" stroke-width="0.7" />
<polygon points="812.0,89.1 842.5,108.6 848.7,105.0 818.2,85.5" fill="#ffffff" stroke="#6b6762" stroke-width="0.7" />
<polygon points="812.0,96.2 842.5,115.7 842.5,108.6 812.0,89.1" fill="#ffffff" stroke="#6b6762" stroke-width="0.7" />
<polygon points="805.8,99.8 836.3,119.3 842.5,115.7 812.0,96.2" fill="#ffffff" stroke="#6b6762" stroke-width="0.7" />
<polygon points="805.8,106.9 836.3,126.4 836.3,119.3 805.8,99.8" fill="#ffffff" stroke="#6b6762" stroke-width="0.7" />
<polygon points="799.6,110.5 830.1,130.0 836.3,126.4 805.8,106.9" fill="#ffffff" stroke="#6b6762" stroke-width="0.7" />
<polygon points="799.6,117.6 830.1,137.1 830.1,130.0 799.6,110.5" fill="#ffffff" stroke="#6b6762" stroke-width="0.7" />
<polygon points="793.4,121.2 823.9,140.7 830.1,137.1 799.6,117.6" fill="#ffffff" stroke="#6b6762" stroke-width="0.7" />
<polygon points="793.4,128.3 823.9,147.8 823.9,140.7 793.4,121.2" fill="#ffffff" stroke="#6b6762" stroke-width="0.7" />
<polygon points="787.2,131.8 817.7,151.3 823.9,147.8 793.4,128.3" fill="#ffffff" stroke="#6b6762" stroke-width="0.7" />
<polygon points="787.2,138.9 817.7,158.4 817.7,151.3 787.2,131.8" fill="#ffffff" stroke="#6b6762" stroke-width="0.7" />
<polygon points="781.0,142.5 811.5,162.0 817.7,158.4 787.2,138.9" fill="#ffffff" stroke="#6b6762" stroke-width="0.7" />
<polygon points="781.0,149.6 811.5,169.1 811.5,162.0 781.0,142.5" fill="#ffffff" stroke="#6b6762" stroke-width="0.7" />
<polygon points="774.8,153.2 805.3,172.7 811.5,169.1 781.0,149.6" fill="#ffffff" stroke="#6b6762" stroke-width="0.7" />
<polygon points="774.8,160.3 805.3,179.8 805.3,172.7 774.8,153.2" fill="#ffffff" stroke="#6b6762" stroke-width="0.7" />
<polygon points="768.6,163.9 799.1,183.4 805.3,179.8 774.8,160.3" fill="#ffffff" stroke="#6b6762" stroke-width="0.7" />
<polygon points="768.6,171.0 799.1,190.5 799.1,183.4 768.6,163.9" fill="#ffffff" stroke="#6b6762" stroke-width="0.7" />
<polygon points="762.4,174.5 792.9,194.0 799.1,190.5 768.6,171.0" fill="#ffffff" stroke="#6b6762" stroke-width="0.7" />
<polygon points="762.4,181.6 792.9,201.1 792.9,194.0 762.4,174.5" fill="#ffffff" stroke="#6b6762" stroke-width="0.7" />
<polygon points="756.2,185.2 786.7,204.7 792.9,201.1 762.4,181.6" fill="#ffffff" stroke="#6b6762" stroke-width="0.7" />
<polygon points="756.2,192.3 786.7,211.8 786.7,204.7 756.2,185.2" fill="#ffffff" stroke="#6b6762" stroke-width="0.7" />
<polygon points="750.0,195.9 780.5,215.4 786.7,211.8 756.2,192.3" fill="#ffffff" stroke="#6b6762" stroke-width="0.7" />
<polygon points="750.0,203.0 780.5,222.5 780.5,215.4 750.0,195.9" fill="#ffffff" stroke="#6b6762" stroke-width="0.7" />
</g>
<polygon points="520.0,-20.0 520.0,39.0 582.5,76.0 582.5,17.5 554.0,0.0 554.0,-20.0" fill="#ffffff" stroke="#645b53" stroke-width="2.8" stroke-linejoin="miter"/>
<polyline points="554.0,-5.0 554.0,58.0" fill="none" stroke="#645b53" stroke-width="2.5" />
<polyline points="520.0,10.5 582.5,46.0" fill="none" stroke="#645b53" stroke-width="2.5" />
<polygon points="702.5,20.0 702.5,79.0 766.0,42.5 766.0,-20.0" fill="#ffffff" stroke="#645b53" stroke-width="2.8" stroke-linejoin="miter"/>
<polyline points="734.0,2.0 734.0,61.0" fill="none" stroke="#645b53" stroke-width="2.5" />
<polyline points="702.5,47.5 766.0,11.0" fill="none" stroke="#645b53" stroke-width="2.5" />
<polyline points="462.0,0.0 472.0,6.0" fill="none" stroke="#645b53" stroke-width="2.2" />
<polyline points="816.0,8.0 842.0,-6.0" fill="none" stroke="#645b53" stroke-width="2.4" />
<polygon points="979.0,32.5 1010.0,51.0 1009.0,122.5 976.0,139.0" fill="#ffffff" stroke="#6b6762" stroke-width="0.8" />
<polyline points="1010.0,51.0 1017.5,54.0 1017.5,162.5 976.0,139.0" fill="none" stroke="#6b6762" stroke-width="0.8" />
<rect x="1003" y="66" width="3.5" height="9" rx="1" fill="none" stroke="#666" stroke-width="0.7"/>
<polyline points="1031.5,0.0 1031.5,172.0" fill="none" stroke="#8a8680" stroke-width="0.8" />
<polyline points="640.5,394.0 1030.5,176.5" fill="none" stroke="#22221e" stroke-width="5" />
<polyline points="881.0,269.0 1027.0,353.5" fill="none" stroke="#6b6762" stroke-width="0.9" />
<polyline points="1080.0,0.0 1138.0,37.0 1138.0,113.0" fill="none" stroke="#ddd" stroke-width="0.6" />
<polyline points="1101.0,50.0 1138.0,37.0" fill="none" stroke="#ccc" stroke-width="0.6" />
</g>
<g id="objects">
<polyline points="1007.5,137.5 759.0,277.5 676.0,229.0 502.5,325.0 392.0,262.0 354.0,282.0" fill="none" stroke="#e5514a" stroke-width="3.7" stroke-linejoin="miter" stroke-linecap="butt"/>
<polyline points="361.5,265.0 354.0,282.0 375.0,288.4" fill="none" stroke="#e5514a" stroke-width="3.7" stroke-linejoin="miter" stroke-linecap="butt"/>
<polyline points="559.0,395.0 478.8,437.5 400.0,394.0" fill="none" stroke="#e5514a" stroke-width="3.7" stroke-linejoin="miter" stroke-linecap="butt"/>
<polyline points="420.0,388.0 400.0,394.0 405.0,412.5" fill="none" stroke="#e5514a" stroke-width="3.7" stroke-linejoin="miter" stroke-linecap="butt"/>
<polyline points="852.5,397.5 887.5,419.0 811.5,460.5 712.5,397.5 669.5,397.0" fill="none" stroke="#e5514a" stroke-width="3.7" stroke-linejoin="miter" stroke-linecap="butt"/>
<polyline points="686.0,384.0 669.5,397.0 685.0,411.0" fill="none" stroke="#e5514a" stroke-width="3.7" stroke-linejoin="miter" stroke-linecap="butt"/>
<path d="M797.5,622.5 C797,598 785,580 747.5,572.5" fill="none" stroke="#e5514a" stroke-width="3.7"/>
<polyline points="764.0,559.0 747.5,572.5 764.0,587.5" fill="none" stroke="#e5514a" stroke-width="3.7" stroke-linejoin="miter" stroke-linecap="butt"/>
<polygon points="511.0,375.0 557.5,350.0 615.0,381.0 566.0,410.0" fill="#1f1f1b" stroke="none" stroke-width="1" />
<polygon points="505.5,346.0 552.5,320.5 557.5,350.0 511.0,375.0" fill="#2a2a25" stroke="none" stroke-width="1" />
<polygon points="566.0,410.0 575.0,382.5 624.0,357.0 615.0,381.0" fill="#2a2a25" stroke="none" stroke-width="1" />
<polyline points="511.0,375.0 557.5,350.0 595.0,372.5 575.0,382.5" fill="none" stroke="#e8e5dc" stroke-width="0.9" />
<polyline points="557.5,350.0 557.5,385.0 542.5,394.0" fill="none" stroke="#e8e5dc" stroke-width="0.9" />
<polyline points="557.5,385.0 572.5,394.0" fill="none" stroke="#e8e5dc" stroke-width="0.9" />
<polyline points="511.0,375.0 566.0,410.0 615.0,381.0" fill="none" stroke="#e8e5dc" stroke-width="0.9" />
<polyline points="566.0,410.0 575.0,382.5" fill="none" stroke="#e8e5dc" stroke-width="0.9" />
<polyline points="559.0,395.0 540.0,405.0" fill="none" stroke="#e5514a" stroke-width="3.7" stroke-linejoin="miter" stroke-linecap="butt"/>
<path d="M209,288 C210,276 213,266 217,261 C220,257 224,255 226,252 L225,248 L229,246.5 L232,249 L231,253 C233,258 234,268 233,280 L228,297 Z" fill="#f7f7f5" stroke="#8a8a88" stroke-width="0.8"/>
<path d="M214,286 L217,276 L219,270 L225,270 L225,290 L219,292 Z" fill="#5b9bd5" opacity="0.85"/>
<path d="M243,262 C246,257 250,255 251,251 L250,247 L254,245.5 L257,248 L256,252 C258,258 259,268 258,280 L255,297 L245,297 Z" fill="#f7f7f5" stroke="#8a8a88" stroke-width="0.8"/>
<path d="M248,275 L255,274 L254,296 L249,296 Z" fill="#55a873" opacity="0.85"/>
<path d="M222,300 C223,288 225,277 229,272 C232,268 236,266 238,264 L237,260 L241,259 L242,263 C245,268 247,276 247,286 L247,301 C243,307 236,309 231,307 C226,306 223,303 222,300 Z" fill="#24231f"/>
<path d="M229,276 C227,284 226,292 227,298" fill="none" stroke="#cfcfca" stroke-width="0.8" opacity="0.7"/>
<polygon points="255.7,273.6 272.0,265.0 286.0,271.5 269.0,281.0" fill="#f08b3c" stroke="#d06c22" stroke-width="0.6" />
<polygon points="255.7,273.6 269.0,281.0 271.0,321.0 257.0,314.0" fill="#ea8233" stroke="#d06c22" stroke-width="0.6" />
<polygon points="269.0,281.0 286.0,271.5 285.0,313.0 271.0,321.0" fill="#f08b3c" stroke="#d06c22" stroke-width="0.6" />
<path d="M273,265 q4,-6 9,-2 l0,4" fill="none" stroke="#d06c22" stroke-width="1.6"/>
<polygon points="258.0,294.0 267.0,299.0 267.0,304.0 258.0,299.0" fill="#7a3a12" stroke="none" stroke-width="1" />
<polyline points="258.0,306.0 269.0,312.0" fill="none" stroke="#a8561d" stroke-width="0.9" />
<polyline points="262.0,301.0 262.0,309.0" fill="none" stroke="#7a3a12" stroke-width="1.2" />
<polygon points="274.4,285.0 291.4,276.8 305.0,283.0 288.0,292.7" fill="#f08b3c" stroke="#d06c22" stroke-width="0.6" />
<polygon points="274.4,285.0 288.0,292.7 290.0,332.0 276.5,324.6" fill="#ea8233" stroke="#d06c22" stroke-width="0.6" />
<polygon points="288.0,292.7 305.0,283.0 302.0,325.0 290.0,332.0" fill="#f08b3c" stroke="#d06c22" stroke-width="0.6" />
<path d="M292,277 q4,-6 9,-2 l0,4" fill="none" stroke="#d06c22" stroke-width="1.6"/>
<polygon points="277.0,306.0 286.0,311.0 286.0,316.0 277.0,311.0" fill="#7a3a12" stroke="none" stroke-width="1" />
<polyline points="277.0,318.0 288.0,324.0" fill="none" stroke="#a8561d" stroke-width="0.9" />
<polyline points="281.0,313.0 281.0,321.0" fill="none" stroke="#7a3a12" stroke-width="1.2" />
<polygon points="296.7,296.0 325.4,312.0 331.8,353.0 321.0,354.0 306.0,345.0" fill="#45a466" stroke="none" stroke-width="1" />
<polygon points="325.4,313.0 354.0,329.0 359.4,369.0 353.0,371.0 336.0,362.0" fill="#4a93d0" stroke="none" stroke-width="1" />
<polygon points="325.4,312.0 329.5,309.5 336.0,350.5 331.8,353.0" fill="#2f8850" stroke="none" stroke-width="1" />
<polygon points="354.0,329.0 358.0,326.5 364.0,366.5 359.4,369.0" fill="#3a7fbb" stroke="none" stroke-width="1" />
<polygon points="354.0,330.0 380.7,346.0 385.0,387.0 366.0,376.6" fill="#b09a94" stroke="none" stroke-width="1" />
<polygon points="380.7,346.0 401.0,334.0 398.7,374.5 385.0,387.0" fill="#c2aca6" stroke="none" stroke-width="1" />
<ellipse cx="392.5" cy="376" rx="2.6" ry="3.6" fill="#2a2623"/>
<polyline points="313.0,327.0 313.0,339.0" fill="none" stroke="#d9f0e0" stroke-width="0.8" />
<polyline points="319.0,330.0 319.0,342.0" fill="none" stroke="#d9f0e0" stroke-width="0.8" />
<polyline points="313.0,333.0 319.0,336.0" fill="none" stroke="#d9f0e0" stroke-width="0.8" />
<polyline points="342.0,344.0 342.0,356.0" fill="none" stroke="#dcecf8" stroke-width="0.8" />
<polyline points="348.0,347.0 348.0,359.0" fill="none" stroke="#dcecf8" stroke-width="0.8" />
<polyline points="342.0,350.0 348.0,353.0" fill="none" stroke="#dcecf8" stroke-width="0.8" />
<polyline points="368.0,359.0 368.0,371.0" fill="none" stroke="#efe6e3" stroke-width="0.8" />
<polyline points="374.0,362.0 374.0,374.0" fill="none" stroke="#efe6e3" stroke-width="0.8" />
<polyline points="368.0,365.0 374.0,368.0" fill="none" stroke="#efe6e3" stroke-width="0.8" />
<polygon points="296.7,296.0 325.4,312.0 326.2,318.0 297.5,302.0" fill="#4fb070" stroke="none" stroke-width="1" />
<polygon points="325.4,313.0 354.0,329.0 354.8,335.0 326.2,319.0" fill="#5aa0da" stroke="none" stroke-width="1" />
<polygon points="354.0,330.0 380.7,346.0 381.3,352.0 354.6,336.0" fill="#bca69f" stroke="none" stroke-width="1" />
<polygon points="380.7,346.0 401.0,334.0 400.6,340.0 381.3,352.0" fill="#cdb8b1" stroke="none" stroke-width="1" />
<polygon points="294.0,293.0 317.3,278.6 403.3,328.6 401.5,334.0 380.6,346.5" fill="#856a61" stroke="none" stroke-width="1" />
<polyline points="294.0,293.8 380.6,347.2 401.5,334.8" fill="none" stroke="#3f302b" stroke-width="1.3" />
<polyline points="324.3,309.0 346.6,297.0" fill="none" stroke="#4f3d37" stroke-width="0.9" />
<polyline points="353.0,325.5 376.4,313.0" fill="none" stroke="#4f3d37" stroke-width="0.9" />
<polygon points="761.0,361.0 776.0,352.5 791.0,361.0 776.0,370.0" fill="#f08b3c" stroke="#d06c22" stroke-width="0.6" />
<polygon points="761.0,361.0 776.0,370.0 776.0,415.0 764.0,406.0" fill="#ea8233" stroke="#d06c22" stroke-width="0.6" />
<polygon points="776.0,370.0 791.0,361.0 791.0,406.0 776.0,415.0" fill="#f08b3c" stroke="#d06c22" stroke-width="0.6" />
<polygon points="777.5,352.5 790.0,345.5 807.5,355.0 793.0,362.5" fill="#f08b3c" stroke="#d06c22" stroke-width="0.6" />
<polygon points="791.0,362.0 807.5,355.0 806.0,399.0 792.5,406.0" fill="#f08b3c" stroke="#d06c22" stroke-width="0.6" />
<path d="M763,358 q0,-6 6,-6 l3,2" fill="none" stroke="#d06c22" stroke-width="1.5"/>
<path d="M779,350 q0,-6 6,-6 l3,2" fill="none" stroke="#d06c22" stroke-width="1.5"/>
<polyline points="779.0,392.0 789.0,386.0" fill="none" stroke="#8a4513" stroke-width="1.4" />
<polyline points="795.0,385.0 804.0,380.0" fill="none" stroke="#8a4513" stroke-width="1.4" />
<polyline points="779.0,400.0 789.0,394.0" fill="none" stroke="#8a4513" stroke-width="1.1" />
<polyline points="795.0,393.0 804.0,388.0" fill="none" stroke="#8a4513" stroke-width="1.1" />
<ellipse cx="766" cy="406" rx="2" ry="3" fill="#2a2623"/>
<polygon points="795.0,341.0 819.0,354.0 819.0,394.0 810.0,395.0 807.5,390.0" fill="#c9b6b0" stroke="none" stroke-width="1" />
<polygon points="819.0,354.0 842.5,340.0 837.5,370.0 832.5,387.5 819.0,394.0" fill="#8c746d" stroke="none" stroke-width="1" />
<polygon points="844.0,337.5 870.0,325.0 864.0,356.0 860.0,370.0 842.5,380.0 836.0,376.0 838.0,350.0" fill="#4a93d0" stroke="none" stroke-width="1" />
<polygon points="872.5,322.5 899.0,309.0 895.0,350.0 874.0,364.0 865.0,360.0 866.0,341.0" fill="#45a466" stroke="none" stroke-width="1" />
<polyline points="823.0,374.0 823.0,385.0" fill="none" stroke="#efe6e3" stroke-width="0.8" />
<polyline points="829.0,370.0 829.0,381.0" fill="none" stroke="#efe6e3" stroke-width="0.8" />
<polyline points="823.0,378.0 829.0,374.0" fill="none" stroke="#efe6e3" stroke-width="0.8" />
<polyline points="848.0,360.0 848.0,371.0" fill="none" stroke="#dcecf8" stroke-width="0.8" />
<polyline points="854.0,356.0 854.0,367.0" fill="none" stroke="#dcecf8" stroke-width="0.8" />
<polyline points="848.0,364.0 854.0,360.0" fill="none" stroke="#dcecf8" stroke-width="0.8" />
<polyline points="878.0,344.0 878.0,355.0" fill="none" stroke="#d9f0e0" stroke-width="0.8" />
<polyline points="884.0,340.0 884.0,351.0" fill="none" stroke="#d9f0e0" stroke-width="0.8" />
<polyline points="878.0,348.0 884.0,344.0" fill="none" stroke="#d9f0e0" stroke-width="0.8" />
<polygon points="794.0,337.5 879.0,290.0 902.5,304.0 902.0,308.0 819.0,355.0" fill="#856a61" stroke="none" stroke-width="1" />
<polyline points="794.0,338.5 819.0,355.5 902.0,308.5" fill="none" stroke="#4f3d37" stroke-width="1.2" />
<polyline points="822.0,322.0 846.0,337.0" fill="none" stroke="#4f3d37" stroke-width="0.9" />
<polyline points="850.5,306.0 874.5,321.0" fill="none" stroke="#4f3d37" stroke-width="0.9" />
<polygon points="1036.0,32.0 1056.0,44.0 1062.0,80.0 1054.0,84.0 1039.0,74.0" fill="#45a466" stroke="none" stroke-width="1" />
<polygon points="1057.0,45.0 1082.0,60.0 1090.0,100.0 1084.0,100.0 1064.0,84.0" fill="#4a93d0" stroke="none" stroke-width="1" />
<polygon points="1086.0,64.0 1109.0,77.0 1110.0,117.0 1093.0,107.0" fill="#9b857e" stroke="none" stroke-width="1" />
<polygon points="1109.0,77.0 1130.0,62.0 1124.0,104.0 1110.0,117.0" fill="#c4afa9" stroke="none" stroke-width="1" />
<ellipse cx="1119" cy="108" rx="2" ry="3.2" fill="#2a2623"/>
<polygon points="1036.0,18.0 1048.0,8.0 1132.0,58.0 1131.0,62.0 1108.0,74.0 1036.0,30.0" fill="#856a61" stroke="none" stroke-width="1" />
<polyline points="1036.0,30.0 1108.0,74.5 1131.0,62.5" fill="none" stroke="#4f3d37" stroke-width="1" />
<polyline points="1057.0,43.0 1075.0,24.0" fill="none" stroke="#4f3d37" stroke-width="0.8" />
<polyline points="1083.0,59.0 1102.0,40.0" fill="none" stroke="#4f3d37" stroke-width="0.8" />
<polygon points="1056.0,88.0 1064.0,84.0 1082.0,94.0 1068.0,101.0" fill="#f08b3c" stroke="#d06c22" stroke-width="0.6" />
<polygon points="1056.0,88.0 1068.0,101.0 1067.0,144.0 1056.0,138.0" fill="#ea8233" stroke="#d06c22" stroke-width="0.6" />
<polygon points="1068.0,101.0 1082.0,94.0 1082.0,138.0 1067.0,144.0" fill="#f08b3c" stroke="#d06c22" stroke-width="0.6" />
<polygon points="1037.0,96.0 1048.0,90.4 1066.0,100.0 1055.0,109.0" fill="#f08b3c" stroke="#d06c22" stroke-width="0.6" />
<polygon points="1037.0,97.0 1055.0,109.0 1054.0,153.0 1039.0,142.0" fill="#ea8233" stroke="#d06c22" stroke-width="0.6" />
<polygon points="1055.0,109.0 1067.0,101.0 1067.0,144.0 1054.0,153.0" fill="#f08b3c" stroke="#d06c22" stroke-width="0.6" />
<polyline points="1057.0,130.0 1065.0,125.0" fill="none" stroke="#8a4513" stroke-width="1.3" />
<polyline points="1070.0,122.0 1080.0,117.0" fill="none" stroke="#8a4513" stroke-width="1.3" />
<polyline points="1057.0,137.0 1065.0,132.0" fill="none" stroke="#8a4513" stroke-width="1" />
<polyline points="1070.0,129.0 1080.0,124.0" fill="none" stroke="#8a4513" stroke-width="1" />
<path d="M1040,93 q0,-5 5,-5 l3,2" fill="none" stroke="#d06c22" stroke-width="1.4"/>
<path d="M1058,85 q0,-5 5,-5 l3,2" fill="none" stroke="#d06c22" stroke-width="1.4"/>
<circle cx="712.5" cy="220.6" r="5.6" fill="#35322c"/>
<path d="M703.0,227.7 L722.0,227.7 Q725.0,227.7 725.0,230.7 L725.0,258.7 L721.8,258.7 L721.4,235.7 L720.6,235.7 L720.6,262.7 L704.4,262.7 L704.4,235.7 L703.6,235.7 L703.2,258.7 L700.0,258.7 L700.0,230.7 Q700.0,227.7 703.0,227.7 Z" fill="#35322c"/>
<rect x="704.6" y="263" width="6.6" height="36" fill="#35322c"/><rect x="713.6" y="263" width="6.6" height="36" fill="#35322c"/>
<polyline points="701.0,236.0 684.0,248.0" fill="none" stroke="#35322c" stroke-width="3.2" />
<path d="M678,292 C676,276 680,262 685,256 L682,250 L690,248 L690,255 C698,262 704,280 702,294 C696,298 684,298 678,292 Z" fill="#35322c"/>
<circle cx="823" cy="614.5" r="5.4" fill="#35322c"/>
<path d="M815,624.5 L831,624.5 Q836,624.5 836,629 L836,655 L833,655 L832.6,633 L831.6,633 L831.6,662 L814.4,662 L814.4,633 L813.4,633 L813,640 L810,640 L810,629 Q810,624.5 815,624.5 Z" fill="#35322c"/>
<polyline points="812.0,634.0 800.0,643.0" fill="none" stroke="#35322c" stroke-width="2.6" />
<path d="M814.9,662 L814.9,692.5 L821,692.5 L821,664 Z M831.1,662 L831.1,692.5 L825,692.5 L825,664 Z" fill="#23231d" stroke="#f1efe9" stroke-width="1"/>
<polygon points="752.5,650.0 774.0,661.0 799.0,645.0 796.0,680.0 787.5,695.0 770.0,704.0 762.5,697.5 759.0,680.0" fill="#45a466" stroke="none" stroke-width="1" />
<polygon points="774.0,661.0 799.0,645.0 796.0,680.0 787.5,695.0 770.0,704.0" fill="#46a869" stroke="none" stroke-width="1" />
<polyline points="778.0,672.0 778.0,690.0" fill="none" stroke="#d9f0e0" stroke-width="0.7" />
<polyline points="784.0,669.0 784.0,686.0" fill="none" stroke="#d9f0e0" stroke-width="0.7" />
<polygon points="751.0,647.5 777.5,631.0 800.0,642.5 772.5,660.0" fill="#8b726a" stroke="none" stroke-width="1" />
<polyline points="751.0,648.5 772.5,661.0 800.0,643.5" fill="none" stroke="#4f3d37" stroke-width="1.1" />
</g>
<g id="truck">
<ellipse cx="592" cy="634" rx="14" ry="19.5" fill="none" stroke="#ebe8e0" stroke-width="0.9"/>
<ellipse cx="623" cy="652" rx="14" ry="20" fill="none" stroke="#ebe8e0" stroke-width="0.9"/>
<ellipse cx="586.9" cy="635" rx="13.5" ry="19" fill="#1f201c" stroke="#ebe8e0" stroke-width="1.1"/>
<ellipse cx="586.4" cy="635.5" rx="7.0" ry="9.5" fill="none" stroke="#d9d6ce" stroke-width="2.2"/>
<ellipse cx="586.4" cy="635.5" rx="9.7" ry="13.7" fill="none" stroke="#ebe8e0" stroke-width="0.6"/>
<ellipse cx="617.5" cy="652" rx="14" ry="20" fill="#1f201c" stroke="#ebe8e0" stroke-width="1.1"/>
<ellipse cx="617.0" cy="652.5" rx="7.3" ry="10.0" fill="none" stroke="#d9d6ce" stroke-width="2.2"/>
<ellipse cx="617.0" cy="652.5" rx="10.1" ry="14.4" fill="none" stroke="#ebe8e0" stroke-width="0.6"/>
<polyline points="497.5,590.0 514.4,581.0 514.4,586.0" fill="none" stroke="#ebe8e0" stroke-width="0.9" />
<polyline points="514.4,586.0 600.0,632.0" fill="none" stroke="#ebe8e0" stroke-width="0.9" />
<polyline points="634.0,662.0 667.0,680.0 668.0,669.0" fill="none" stroke="#ebe8e0" stroke-width="0.9" />
<polygon points="469.0,467.8 543.5,423.5 572.0,438.5 603.5,428.5 609.0,431.5 609.5,438.5 699.0,491.5 706.4,491.0 727.5,502.5 748.5,619.0 667.5,669.0 514.4,584.0 514.4,577.0 449.0,546.0 450.0,507.5 456.0,487.0" fill="#ffffff" stroke="#55514b" stroke-width="0.9" stroke-linejoin="round"/>
<polyline points="469.0,467.8 515.0,493.5" fill="none" stroke="#55514b" stroke-width="0.8" />
<polyline points="543.5,423.5 572.0,438.5" fill="none" stroke="#55514b" stroke-width="0.8" />
<polyline points="466.0,471.0 512.0,497.0" fill="none" stroke="#55514b" stroke-width="0.6" />
<polygon points="470.7,474.5 508.2,495.5 509.0,518.0 504.5,524.0 464.7,501.5 462.5,494.0" fill="#ffffff" stroke="#55514b" stroke-width="0.8" stroke-linejoin="round"/>
<polygon points="454.2,486.0 459.5,483.0 459.5,502.0 454.2,505.0" fill="#2a2a25" stroke="none" stroke-width="1" />
<polyline points="459.5,483.0 463.0,481.0 464.0,478.0" fill="none" stroke="#55514b" stroke-width="0.7" />
<polyline points="456.5,505.0 456.5,511.0 462.0,508.0" fill="none" stroke="#55514b" stroke-width="0.7" />
<polygon points="512.0,497.0 521.0,502.0 521.0,512.0 512.0,507.0" fill="#ffffff" stroke="#55514b" stroke-width="0.7" />
<polygon points="512.0,557.0 521.0,562.0 521.0,571.0 512.0,566.0" fill="#ffffff" stroke="#55514b" stroke-width="0.7" />
<polyline points="528.0,505.5 630.0,561.4" fill="none" stroke="#55514b" stroke-width="0.7" />
<polyline points="528.0,514.5 630.0,570.4" fill="none" stroke="#55514b" stroke-width="0.7" />
<polyline points="528.0,548.5 630.0,604.4" fill="none" stroke="#55514b" stroke-width="0.7" />
<polyline points="528.0,557.5 630.0,613.4" fill="none" stroke="#55514b" stroke-width="0.7" />
<polygon points="514.0,474.0 603.5,428.5 611.2,434.1 528.0,481.5" fill="#ffffff" stroke="#55514b" stroke-width="0.7" />
<polyline points="520.0,477.3 606.4,431.1" fill="none" stroke="#55514b" stroke-width="0.6" />
<polyline points="530.5,483.0 613.7,436.1" fill="none" stroke="#55514b" stroke-width="0.6" />
<polygon points="603.5,428.5 613.7,436.1 613.7,440.6 604.5,433.5" fill="#ffffff" stroke="#55514b" stroke-width="0.6" />
<polygon points="514.0,474.0 528.0,481.5 528.0,591.5 514.0,583.8" fill="#ffffff" stroke="#55514b" stroke-width="0.7" />
<polyline points="521.0,477.8 521.0,587.7" fill="none" stroke="#55514b" stroke-width="0.6" />
<polyline points="530.5,483.0 530.5,592.9" fill="none" stroke="#55514b" stroke-width="0.6" />
<polygon points="556.5,496.9 640.0,451.0 644.7,455.0 565.0,501.4" fill="#ffffff" stroke="#55514b" stroke-width="0.7" />
<polyline points="559.8,498.7 641.3,452.8" fill="none" stroke="#55514b" stroke-width="0.6" />
<polyline points="567.5,502.9 647.2,457.0" fill="none" stroke="#55514b" stroke-width="0.6" />
<polygon points="640.0,451.0 647.2,457.0 647.2,461.5 641.0,456.0" fill="#ffffff" stroke="#55514b" stroke-width="0.6" />
<polygon points="556.5,496.9 565.0,501.4 565.0,612.0 556.5,607.3" fill="#ffffff" stroke="#55514b" stroke-width="0.7" />
<polyline points="560.8,499.2 560.8,609.7" fill="none" stroke="#55514b" stroke-width="0.6" />
<polyline points="567.5,502.9 567.5,613.4" fill="none" stroke="#55514b" stroke-width="0.6" />
<polygon points="589.0,514.4 673.0,471.0 677.1,474.7 596.5,518.4" fill="#ffffff" stroke="#55514b" stroke-width="0.7" />
<polyline points="591.8,515.9 674.1,472.6" fill="none" stroke="#55514b" stroke-width="0.6" />
<polyline points="599.0,519.9 679.6,476.7" fill="none" stroke="#55514b" stroke-width="0.6" />
<polygon points="673.0,471.0 679.6,476.7 679.6,481.2 674.0,476.0" fill="#ffffff" stroke="#55514b" stroke-width="0.6" />
<polygon points="589.0,514.4 596.5,518.4 596.5,629.5 589.0,625.3" fill="#ffffff" stroke="#55514b" stroke-width="0.7" />
<polyline points="592.8,516.4 592.8,627.4" fill="none" stroke="#55514b" stroke-width="0.6" />
<polyline points="599.0,519.9 599.0,630.9" fill="none" stroke="#55514b" stroke-width="0.6" />
<polygon points="622.0,532.1 706.4,491.5 710.5,495.2 629.5,536.1" fill="#ffffff" stroke="#55514b" stroke-width="0.7" />
<polyline points="624.8,533.6 707.5,493.1" fill="none" stroke="#55514b" stroke-width="0.6" />
<polyline points="632.0,537.6 713.0,497.2" fill="none" stroke="#55514b" stroke-width="0.6" />
<polygon points="706.4,491.5 713.0,497.2 713.0,501.7 707.4,496.5" fill="#ffffff" stroke="#55514b" stroke-width="0.6" />
<polygon points="622.0,532.1 629.5,536.1 629.5,647.8 622.0,643.6" fill="#ffffff" stroke="#55514b" stroke-width="0.7" />
<polyline points="625.8,534.1 625.8,645.7" fill="none" stroke="#55514b" stroke-width="0.6" />
<polyline points="632.0,537.6 632.0,649.2" fill="none" stroke="#55514b" stroke-width="0.6" />
<polyline points="514.0,474.0 629.5,536.1 647.5,547.5" fill="none" stroke="#55514b" stroke-width="0.8" />
<polyline points="608.0,438.0 700.0,492.0" fill="none" stroke="#55514b" stroke-width="0.7" />
<polyline points="629.5,647.8 667.5,669.0" fill="none" stroke="#55514b" stroke-width="0.8" />
<polygon points="646.0,547.0 727.5,502.5 748.5,619.0 667.5,669.0" fill="#ffffff" stroke="#55514b" stroke-width="0.9" />
<polygon points="653.8,561.0 724.0,522.0 742.0,612.5 671.0,652.0" fill="#ffffff" stroke="#55514b" stroke-width="0.8" />
<ellipse cx="654.6" cy="550.8" rx="1.3" ry="2.4" fill="#1f201c"/>
<ellipse cx="658.5" cy="548.6" rx="1.3" ry="2.4" fill="#1f201c"/>
<ellipse cx="717.8" cy="514.3" rx="1.3" ry="2.4" fill="#1f201c"/>
<ellipse cx="722.4" cy="511.7" rx="1.3" ry="2.4" fill="#1f201c"/>
<polygon points="673.1,538.4 676.3,536.5 677.3,541.2 674.1,543.1" fill="#26261f" stroke="none" stroke-width="1" />
<polygon points="679.3,534.9 682.5,533.0 683.5,537.7 680.3,539.6" fill="#26261f" stroke="none" stroke-width="1" />
<polygon points="685.4,531.3 688.6,529.4 689.6,534.1 686.4,536.0" fill="#26261f" stroke="none" stroke-width="1" />
<polygon points="691.6,527.8 694.8,525.9 695.8,530.6 692.6,532.5" fill="#26261f" stroke="none" stroke-width="1" />
<polygon points="697.7,524.2 700.9,522.3 701.9,527.0 698.7,528.9" fill="#26261f" stroke="none" stroke-width="1" />
<polyline points="670.0,540.0 700.0,522.0" fill="none" stroke="#55514b" stroke-width="0.6" />
<polyline points="671.0,546.5 701.0,528.5" fill="none" stroke="#55514b" stroke-width="0.6" />
<polygon points="673.5,657.0 677.1,655.0 677.5,659.2 673.9,661.2" fill="#1f201c" stroke="none" stroke-width="1" />
<polygon points="678.5,654.3 682.1,652.3 682.5,656.5 678.9,658.5" fill="#1f201c" stroke="none" stroke-width="1" />
<polygon points="733.0,623.3 736.6,621.3 737.0,625.5 733.4,627.5" fill="#1f201c" stroke="none" stroke-width="1" />
<polygon points="738.0,620.5 741.6,618.5 742.0,622.7 738.4,624.7" fill="#1f201c" stroke="none" stroke-width="1" />
<polyline points="722.5,521.0 712.0,560.0" fill="none" stroke="#55514b" stroke-width="0.6" />
<polyline points="740.0,612.5 722.0,602.0" fill="none" stroke="#55514b" stroke-width="0.6" />
<polygon points="661.1,595.3 687.2,579.8 716.4,564.4 730.2,580.7 724.6,587.2 711.5,605.0 688.8,621.3 675.0,629.4 664.4,608.3" fill="#2f8a50" stroke="none" stroke-width="1" />
<polygon points="661.1,595.3 687.2,579.8 716.4,564.4 730.2,580.7 724.6,587.2 708.0,596.0 686.0,611.0 672.0,620.0 667.0,600.0" fill="#43a566" stroke="none" stroke-width="1" />
<polygon points="661.1,595.3 667.0,600.0 672.0,620.0 675.0,629.4 664.4,608.3" fill="#37955a" stroke="none" stroke-width="1" />
<polyline points="698.0,574.0 708.0,596.0" fill="none" stroke="#2a7a46" stroke-width="0.8" />
<polyline points="667.0,600.0 672.0,620.0 708.0,596.0 724.6,587.2" fill="none" stroke="#2a7a46" stroke-width="0.7" />
<polyline points="703.0,592.0 721.0,581.0" fill="none" stroke="#2a7a46" stroke-width="0.6" />
<ellipse cx="692" cy="576.6" rx="7" ry="5.8" fill="#1d1c19"/>
<ellipse cx="691.5" cy="576.8" rx="2.2" ry="1.8" fill="#6a4040"/>
<ellipse cx="718.5" cy="565" rx="3.2" ry="2.6" fill="#1d1c19"/>
<polygon points="696.0,606.0 720.0,593.0 720.0,600.0 699.0,611.0" fill="#ffffff" stroke="#8d8983" stroke-width="0.7" />
<polygon points="696.0,606.0 699.0,611.0 699.0,644.0 696.0,647.0" fill="#ffffff" stroke="#8d8983" stroke-width="0.7" />
<polygon points="717.0,598.0 720.0,600.0 720.0,634.0 717.0,637.0" fill="#ffffff" stroke="#8d8983" stroke-width="0.7" />
<polyline points="699.0,612.0 708.0,636.0 716.0,604.0" fill="none" stroke="#8d8983" stroke-width="0.7" />
<polyline points="702.0,643.0 708.0,616.0 714.0,638.0" fill="none" stroke="#8d8983" stroke-width="0.7" />
<polyline points="720.0,602.0 729.0,616.0 722.0,634.0" fill="none" stroke="#8d8983" stroke-width="0.7" />
<polyline points="722.0,600.0 726.0,622.0 720.0,640.0" fill="none" stroke="#8d8983" stroke-width="0.6" />
<polygon points="706.0,632.0 718.0,626.0 718.0,641.0 706.0,647.0" fill="#ffffff" stroke="#8d8983" stroke-width="0.7" />
<path d="M468,557 C469,545 495,543 501,563 L514.4,571 L514.4,581 L497.5,590 Z" fill="#1f201c"/>
<ellipse cx="484.5" cy="573.3" rx="14" ry="20.5" fill="#1f201c" stroke="#ebe8e0" stroke-width="1.1"/>
<ellipse cx="484.0" cy="573.8" rx="7.3" ry="10.2" fill="none" stroke="#d9d6ce" stroke-width="2.2"/>
<ellipse cx="484.0" cy="573.8" rx="10.1" ry="14.8" fill="none" stroke="#ebe8e0" stroke-width="0.6"/>
<path d="M468.5,559 C470,545 496,543 501.5,564" fill="none" stroke="#55514b" stroke-width="0.8"/>
</g>
<g id="sign">
<defs><linearGradient id="shd" x1="0" y1="0" x2="0" y2="1"><stop offset="0" stop-color="#a86f3e" stop-opacity="0.55"/><stop offset="1" stop-color="#c98a52" stop-opacity="0"/></linearGradient></defs>
<rect x="96" y="705" width="252" height="16" fill="url(#shd)"/>
<polygon points="89.5,430.5 360.0,429.5 358.0,704.0 90.0,705.5" fill="#e6aa78" stroke="none" stroke-width="1" />
<polygon points="353.5,431.0 360.0,430.0 358.2,704.0 351.8,704.0" fill="#eab07e" stroke="none" stroke-width="1" />
<path d="M356.5,432 Q354.0,434.2 357.0,436.5 T357.2,441.0 Q353.9,443.2 356.9,445.5 T357.1,450.0 Q353.9,452.2 356.9,454.5 T357.1,459.0 Q353.8,461.2 356.8,463.5 T357.0,468.0 Q353.8,470.2 356.8,472.5 T357.0,477.0 Q353.7,479.2 356.7,481.5 T356.9,486.0 Q353.6,488.2 356.6,490.5 T356.8,495.0 Q353.6,497.2 356.6,499.5 T356.8,504.0 Q353.5,506.2 356.5,508.5 T356.7,513.0 Q353.5,515.2 356.5,517.5 T356.7,522.0 Q353.4,524.2 356.4,526.5 T356.6,531.0 Q353.3,533.2 356.3,535.5 T356.5,540.0 Q353.3,542.2 356.3,544.5 T356.5,549.0 Q353.2,551.2 356.2,553.5 T356.4,558.0 Q353.2,560.2 356.2,562.5 T356.4,567.0 Q353.1,569.2 356.1,571.5 T356.3,576.0 Q353.0,578.2 356.0,580.5 T356.2,585.0 Q353.0,587.2 356.0,589.5 T356.2,594.0 Q352.9,596.2 355.9,598.5 T356.1,603.0 Q352.9,605.2 355.9,607.5 T356.1,612.0 Q352.8,614.2 355.8,616.5 T356.0,621.0 Q352.8,623.2 355.8,625.5 T356.0,630.0 Q352.7,632.2 355.7,634.5 T355.9,639.0 Q352.6,641.2 355.6,643.5 T355.8,648.0 Q352.6,650.2 355.6,652.5 T355.8,657.0 Q352.5,659.2 355.5,661.5 T355.7,666.0 Q352.5,668.2 355.5,670.5 T355.7,675.0 Q352.4,677.2 355.4,679.5 T355.6,684.0 Q352.3,686.2 355.3,688.5 T355.5,693.0 Q352.3,695.2 355.3,697.5 T355.5,702.0 " fill="none" stroke="#a5672f" stroke-width="1.7" opacity="0.9"/>
<line x1="360.3" y1="430" x2="358.5" y2="704" stroke="#3a2a1c" stroke-width="0.8" opacity="0.7"/>
<polyline points="89.5,430.8 360.0,429.8" fill="none" stroke="#c99063" stroke-width="0.8" />
<polyline points="90.0,431.0 90.4,705.0" fill="none" stroke="#d49a68" stroke-width="0.8" />
<polyline points="90.0,705.0 358.0,703.6" fill="none" stroke="#b97f4c" stroke-width="1" />
<text class="mono" x="117.5" y="469.2" font-size="16.2" font-weight="bold" fill="#43241a" textLength="182.5" lengthAdjust="spacingAndGlyphs">Wheeled Bins on Street</text>
<text x="117.5" y="492.4" font-size="6.9" fill="#43241a" textLength="198.5" lengthAdjust="spacingAndGlyphs">In New York City, wheeled bins are primarily used for waste and</text>
<text x="117.5" y="501.5" font-size="6.9" fill="#43241a" textLength="200" lengthAdjust="spacingAndGlyphs">recycling in smaller buildings and lower density neighborhoods,</text>
<text x="117.5" y="510.6" font-size="6.9" fill="#43241a" textLength="106.5" lengthAdjust="spacingAndGlyphs">as well as for organics collection.</text>
<text class="mono" x="117.5" y="528" font-size="4.6" font-weight="bold" fill="#43241a" textLength="32" lengthAdjust="spacingAndGlyphs">ADVANTAGES</text>
<text class="mono" x="117.5" y="535.6" font-size="4.9" font-weight="bold" fill="#43241a" textLength="91.5" lengthAdjust="spacingAndGlyphs">Wheeled bins protect waste from</text>
<text class="mono" x="117.5" y="542.7" font-size="4.9" font-weight="bold" fill="#43241a" textLength="91" lengthAdjust="spacingAndGlyphs">rats and can be compatible with</text>
<text class="mono" x="117.5" y="549.8" font-size="4.9" font-weight="bold" fill="#43241a" textLength="81" lengthAdjust="spacingAndGlyphs">automated collection trucks.</text>
<text class="mono" x="227.5" y="528" font-size="4.6" font-weight="bold" fill="#43241a" textLength="41" lengthAdjust="spacingAndGlyphs">DISADVANTAGES</text>
<text class="mono" x="227.5" y="535.6" font-size="4.9" font-weight="bold" fill="#43241a" textLength="95" lengthAdjust="spacingAndGlyphs">Bins require more space than bags</text>
<text class="mono" x="227.5" y="542.7" font-size="4.9" font-weight="bold" fill="#43241a" textLength="92.5" lengthAdjust="spacingAndGlyphs">for maneuvering and storage, and</text>
<text class="mono" x="227.5" y="549.8" font-size="4.9" font-weight="bold" fill="#43241a" textLength="93" lengthAdjust="spacingAndGlyphs">a clear route to the curb. Extra</text>
<text class="mono" x="227.5" y="556.9" font-size="4.9" font-weight="bold" fill="#43241a" textLength="89" lengthAdjust="spacingAndGlyphs">labor is required to bring them</text>
<text class="mono" x="227.5" y="564.0" font-size="4.9" font-weight="bold" fill="#43241a" textLength="92.5" lengthAdjust="spacingAndGlyphs">back to their storage area after</text>
<text class="mono" x="227.5" y="571.1" font-size="4.9" font-weight="bold" fill="#43241a" textLength="31" lengthAdjust="spacingAndGlyphs">collection.</text>
<circle cx="133" cy="575" r="12.6" fill="none" stroke="#5e2f17" stroke-width="1.7"/>
<circle cx="170" cy="575" r="12.6" fill="none" stroke="#5e2f17" stroke-width="1.7"/>
<circle cx="206" cy="575" r="12.6" fill="none" stroke="#5e2f17" stroke-width="1.7"/>
<path d="M129.5,567 L127.5,584 M133,567 L133,584 M136.5,567 L138.5,584" stroke="#5e2f17" stroke-width="1.2" fill="none"/>
<path d="M164.5,583 C163,575 169,567 175,567.5 C178,574 172,583 164.5,583 Z M166,581 L174,570" stroke="#43241a" stroke-width="1" fill="none"/>
<path d="M198.5,578 L204,568.5 C209,568 214,573 214.5,580 L200,583 Z M204,568.5 L207,581.5" stroke="#43241a" stroke-width="1" fill="none"/>
<text class="mono" x="133" y="594.4" font-size="3.9" font-weight="bold" fill="#43241a" text-anchor="middle" letter-spacing="0.35">GOOD STREET</text>
<text class="mono" x="133" y="600" font-size="3.9" font-weight="bold" fill="#43241a" text-anchor="middle" letter-spacing="0.35">CONDITION</text>
<text class="mono" x="170" y="594.4" font-size="3.9" font-weight="bold" fill="#43241a" text-anchor="middle" letter-spacing="0.35">GOOD FOR</text>
<text class="mono" x="170" y="600" font-size="3.9" font-weight="bold" fill="#43241a" text-anchor="middle" letter-spacing="0.35">ORGANICS</text>
<text class="mono" x="206" y="594.4" font-size="3.9" font-weight="bold" fill="#43241a" text-anchor="middle" letter-spacing="0.35">SAFE FOR</text>
<text class="mono" x="206" y="600" font-size="3.9" font-weight="bold" fill="#43241a" text-anchor="middle" letter-spacing="0.35">WORKERS</text>
</g>
</svg></body></html>
